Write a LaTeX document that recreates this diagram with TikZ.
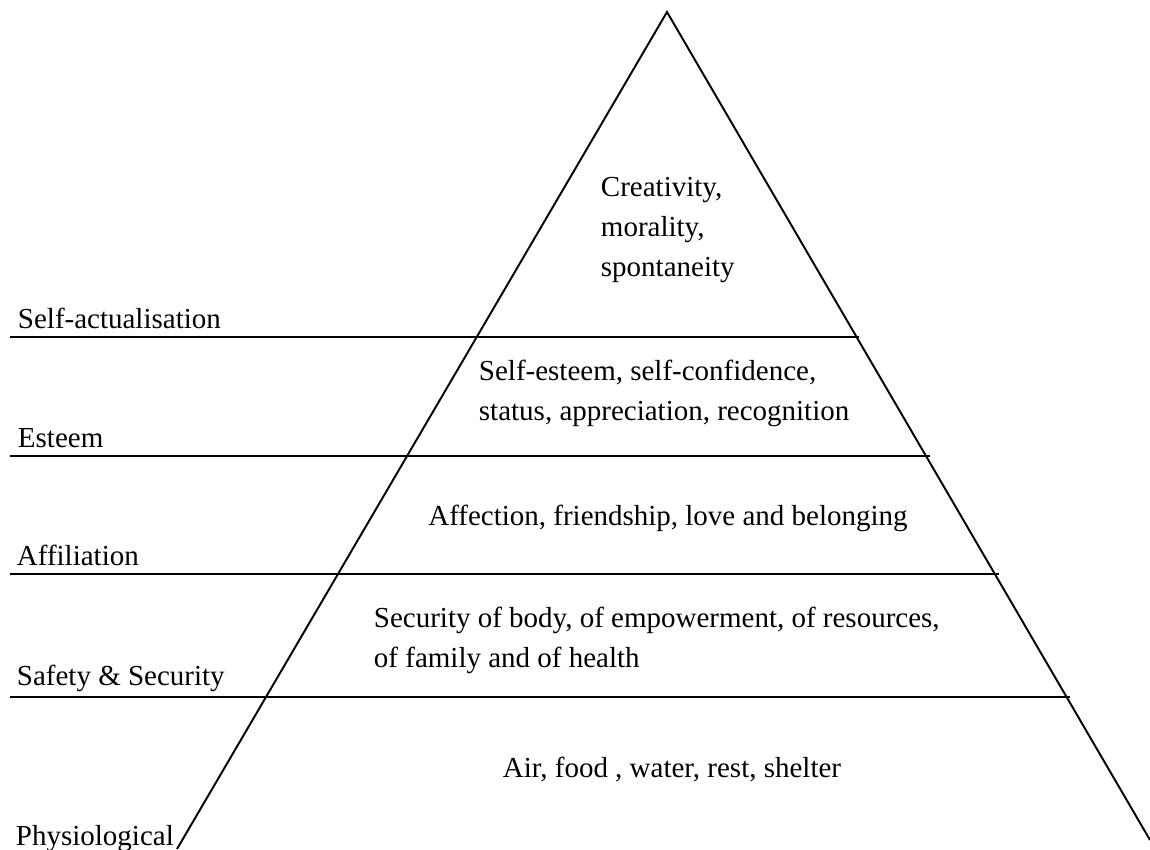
\documentclass[tikz,border=0pt]{standalone}
\usepackage{fontspec}
\setmainfont{Liberation Serif}
\begin{document}
\begin{tikzpicture}[x=0.02cm,y=-0.02cm,line width=1.1pt,
        level/.style={anchor=base west,inner sep=0pt,font=\fontsize{16.5}{22.5}\selectfont},
        need/.style={inner sep=0pt,align=left,font=\fontsize{16.5}{22.5}\selectfont}]
    \useasboundingbox (0,0) rectangle (1150,849);

    % pyramid sides
    \coordinate (top) at (667,12);
    \coordinate (bl) at (177,849);
    \coordinate (br) at (1150,840);
    \draw (bl) -- (top) -- (br);

    % boundaries between the levels
    \foreach \y/\xe in {337/859,456/930,574/999,697/1070}
        \draw (10,\y) -- (\xe,\y);

    % level names
    \node[level] (selfact) at (17,328) {Self-actualisation};
    \node[level] (esteem) at (17,447) {Esteem};
    \node[level] (affil) at (16,565) {Affiliation};
    \node[level] (safety) at (16,685) {Safety \& Security};
    \node[level] (physio) at (15,845) {Physiological};

    % needs inside the pyramid (base = last line)
    \node[need,anchor=base west] (creat) at (600,276) {Creativity,\\morality,\\spontaneity};
    \node[need,anchor=base west] (selfest) at (478,420) {Self-esteem, self-confidence,\\status, appreciation, recognition};
    \node[need,anchor=base] (affect) at (668,525) {Affection, friendship, love and belonging};
    \node[need,anchor=base west] (secur) at (373,667) {Security of body, of empowerment, of resources,\\of family and of health};
    \node[need,anchor=base] (air) at (672,777) {Air, food , water, rest, shelter};
\end{tikzpicture}
\end{document}
